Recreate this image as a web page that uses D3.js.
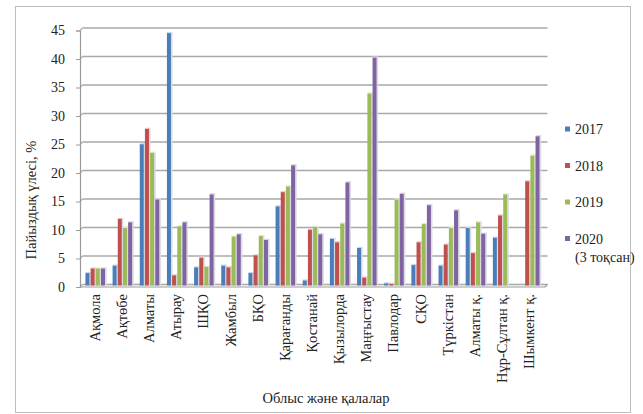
<!DOCTYPE html>
<html>
<head>
<meta charset="utf-8">
<script src="https://cdn.jsdelivr.net/npm/d3@7"></script>
<style>
  html, body { margin: 0; padding: 0; background: #fff; }
  svg { display: block; }
  svg text { font-family: "Liberation Serif", "DejaVu Serif", serif; }
</style>
</head>
<body>
<svg id="chart" width="643" height="414"></svg>
<script>
// Regions and cities
const regions = ["Ақмола", "Ақтөбе", "Алматы", "Атырау", "ШҚО", "Жамбыл", "БҚО",
  "Қарағанды", "Қостанай", "Қызылорда", "Маңғыстау", "Павлодар", "СҚО",
  "Түркістан", "Алматы қ.", "Нұр-Сұлтан қ.", "Шымкент қ."];

// Share by year, %
const v2017 = [2.0, 3.3, 24.6, 44.1, 3.0, 3.3, 2.0, 13.7, 0.7, 8.0, 6.4, 0.2, 3.4, 3.3, 9.9, 8.2, 0];
const v2018 = [2.8, 11.5, 27.3, 1.6, 4.7, 3.0, 5.1, 16.2, 9.6, 7.4, 1.2, 0.1, 7.4, 7.0, 5.5, 12.1, 18.1];
const v2019 = [2.8, 9.9, 23.1, 10.2, 3.1, 8.4, 8.5, 17.2, 10.1, 10.7, 33.5, 14.9, 10.6, 9.9, 10.9, 15.8, 22.6];
const v2020 = [2.8, 10.9, 14.9, 10.9, 15.8, 8.8, 7.8, 20.9, 8.8, 17.9, 39.8, 15.9, 13.9, 13.0, 8.9, 0, 26.0];

const seriesNames = ["2017", "2018", "2019", "2020"];
const legendLabels = [["2017"], ["2018"], ["2019"], ["2020", "(3 тоқсан)"]];
const seriesColors = ["#4a7ebb", "#c0504d", "#9bbb59", "#8064a2"];
const yTicks = [0, 5, 10, 15, 20, 25, 30, 35, 40, 45];

const yLabel = "Пайыздық үлесі, %";
const xLabel = "Облыс және қалалар";

const FONT = "'Liberation Serif', 'DejaVu Serif', serif";
const svg = d3.select("#chart");
const left = 80, right = 545, depth = 2.5;

const x = d3.scaleBand().domain(regions).range([left, right]).paddingInner(0.28).paddingOuter(0.2);
const xs = d3.scaleBand().domain(seriesNames).range([0, x.bandwidth()]).paddingInner(0.22);
const y = d3.scaleLinear().domain([0, 45]).range([284.5, 28]);

// Outer frame
svg.append("rect").attr("x", 15.5).attr("y", 6.5).attr("width", 615).attr("height", 406)
  .attr("fill", "none").attr("stroke", "#bdbdbd").attr("stroke-width", 1);

// Back-wall gridlines with short perspective joins to the axis
const grid = svg.append("g");
yTicks.forEach(t => {
  grid.append("line").attr("x1", left + depth).attr("x2", right + depth)
    .attr("y1", y(t)).attr("y2", y(t))
    .attr("stroke", "#a8a8a8").attr("stroke-width", 1.3);
  grid.append("line").attr("x1", left).attr("x2", left + depth)
    .attr("y1", y(t) + depth).attr("y2", y(t))
    .attr("stroke", "#a8a8a8").attr("stroke-width", 1.1);
});

// Floor edge
svg.append("path")
  .attr("d", `M${left},${y(0) + depth}H${right}L${right + depth},${y(0)}`)
  .attr("fill", "none").attr("stroke", "#9a9a9a").attr("stroke-width", 1.2);

// Y axis
const yAxis = svg.append("g").attr("transform", `translate(${left},${depth})`)
  .call(d3.axisLeft(y).tickValues(yTicks).tickSize(4).tickPadding(11));
yAxis.attr("font-family", FONT);
yAxis.select(".domain").attr("stroke", "#9a9a9a").attr("stroke-width", 1.2);
yAxis.selectAll(".tick line").attr("stroke", "#9a9a9a");
yAxis.selectAll(".tick text").attr("font-size", 14).attr("fill", "#222")
  .attr("font-family", FONT);

// Bars
const data = [v2017, v2018, v2019, v2020];
const bars = svg.append("g");
regions.forEach((r, i) => {
  seriesNames.forEach((s, k) => {
    const v = data[k][i];
    if (v <= 0) return;
    const bx = x(r) + xs(s);
    const w = xs.bandwidth();
    const top = y(v), base = y(0) + 1;
    const shade = d3.interpolateRgb(seriesColors[k], "#ffffff")(0.72);
    // side face
    bars.append("rect").attr("x", bx + w).attr("y", top - 1).attr("width", 1.6)
      .attr("height", Math.max(0, base - top + 1)).attr("fill", "#dcdbe3");
    // top face
    bars.append("rect").attr("x", bx).attr("y", top - 1.2).attr("width", w + 1.2)
      .attr("height", 1.4).attr("fill", shade);
    // front face
    bars.append("rect").attr("x", bx).attr("y", top).attr("width", w)
      .attr("height", Math.max(0, base - top)).attr("fill", seriesColors[k]);
  });
});

// Category labels (vertical)
const xl = svg.append("g");
regions.forEach(r => {
  const cx = x(r) + x.bandwidth() / 2 + 4.5;
  xl.append("text")
    .attr("transform", `translate(${cx},294) rotate(-90)`)
    .attr("text-anchor", "end").attr("font-size", 14.5).attr("fill", "#222")
    .attr("font-family", FONT)
    .text(r);
});

// Axis titles
svg.append("text").attr("transform", "translate(36,200) rotate(-90)")
  .attr("text-anchor", "middle").attr("font-size", 14.5).attr("fill", "#222")
  .attr("font-family", FONT).text(yLabel);
svg.append("text").attr("x", 326).attr("y", 403)
  .attr("text-anchor", "middle").attr("font-size", 14.5).attr("fill", "#222")
  .attr("font-family", FONT).text(xLabel);

// Legend
const legY = [129, 165.5, 202, 238.5];
legendLabels.forEach((lines, k) => {
  svg.append("rect").attr("x", 565).attr("y", legY[k] - 2.5).attr("width", 5).attr("height", 5)
    .attr("fill", seriesColors[k]);
  lines.forEach((ln, j) => {
    svg.append("text").attr("x", 575).attr("y", legY[k] + 5 + j * 18)
      .attr("font-size", 14).attr("fill", "#222").attr("font-family", FONT).text(ln);
  });
});
</script>
</body>
</html>
